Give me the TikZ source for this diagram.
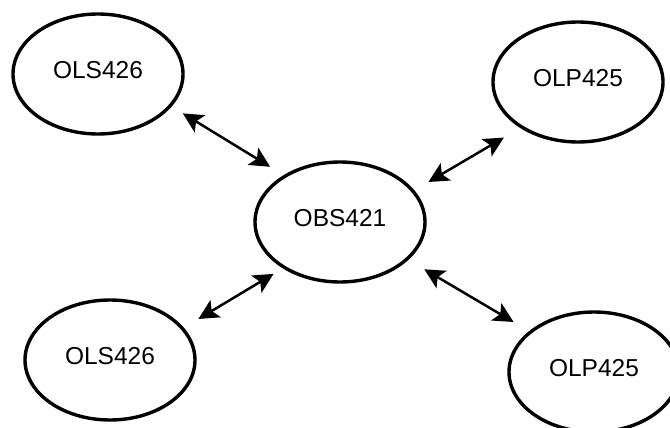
\documentclass[tikz,border=0pt]{standalone}
\usepackage{fontspec}
\setmainfont{Liberation Sans}
\usetikzlibrary{shapes.geometric,arrows.meta}
\begin{document}
\begin{tikzpicture}[x=1pt,y=-1pt,
  oval/.style={ellipse,draw=black,line width=3.4pt,minimum width=170pt,minimum height=120pt,inner sep=0pt,font=\fontsize{24.5}{28}\selectfont,text depth=8pt},
  tipstyle/.style={},
  arr/.style={line width=2.5pt,{Stealth[length=20pt,width=20pt,inset=4.5pt]}-{Stealth[length=20pt,width=20pt,inset=4.5pt]}}]
\useasboundingbox (0,0) rectangle (670,428);
\node[oval] (tl) at (98,74) {OLS426};
\node[oval] (c) at (340,222) {OBS421};
\node[oval] (tr) at (578,82) {OLP425};
\node[oval] (bl) at (110,360) {OLS426};
\node[oval] (br) at (594,372) {OLP425};
\draw[arr,shorten <=99.4pt,shorten >=81.9pt] ([yshift=12.5pt]tl.center) -- ([yshift=12.5pt]c.center);
\draw[arr,shorten <=86pt,shorten >=102.6pt] ([yshift=-12pt]tr.center) -- ([yshift=-12pt]c.center);
\draw[arr,shorten <=103.1pt,shorten >=77.5pt] ([yshift=-12pt]bl.center) -- ([yshift=-12pt]c.center);
\draw[arr,shorten <=97.9pt,shorten >=93.4pt] ([yshift=2.5pt]c.center) -- ([yshift=2.5pt]br.center);
\end{tikzpicture}
\end{document}
